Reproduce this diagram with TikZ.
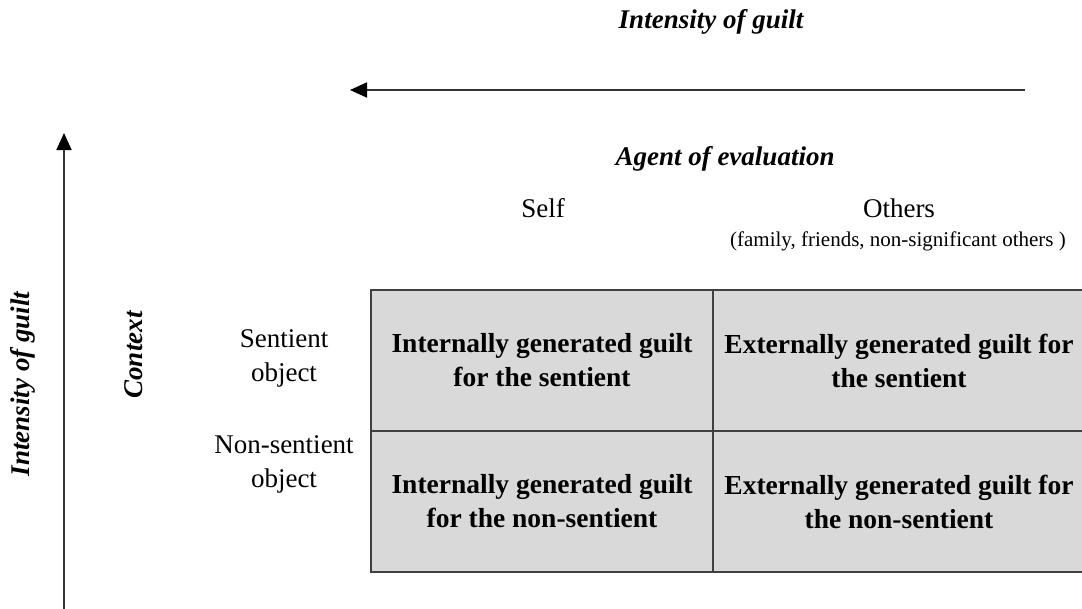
\documentclass[tikz,border=0pt]{standalone}
\usepackage{fontspec}
\setmainfont{Liberation Serif}
\usetikzlibrary{arrows.meta}
\begin{document}
\begin{tikzpicture}[x=1pt,y=-1pt,
  arr/.style={line width=1.8pt,draw=black!80,-{Triangle[length=17pt,width=15pt,fill=black,color=black]}},
  cell/.style={draw=black!75,line width=1.8pt,fill=black!15,minimum height=141pt,inner sep=0pt,align=center,font=\fontsize{27.5}{34}\selectfont\bfseries},
  hdr/.style={font=\fontsize{27}{30}\selectfont\bfseries\itshape},
  lbl/.style={font=\fontsize{27}{34}\selectfont,align=center}]
\useasboundingbox (0,0) rectangle (1082,608);
% grid
\node[cell,minimum width=342pt] (c11) at (542,360.5) {Internally generated guilt\\for the sentient};
\node[cell,minimum width=372pt] (c12) at (899,360.5) {Externally generated guilt for\\the sentient};
\node[cell,minimum width=342pt] (c21) at (542,501.5) {Internally generated guilt\\for the non-sentient};
\node[cell,minimum width=372pt] (c22) at (899,501.5) {Externally generated guilt for\\the non-sentient};
% headers
\node[hdr] (top) at (711,22) {Intensity of guilt};
\node[hdr] (agent) at (725,159) {Agent of evaluation};
\node[lbl] (self) at (543,208) {Self};
\node[lbl] (others) at (899,208) {Others};
\node[font=\fontsize{21}{24}\selectfont] (fam) at (898,241) {(family, friends, non-significant others )};
\node[hdr,rotate=90] (left) at (23,384) {Intensity of guilt};
\node[hdr,rotate=90] (ctx) at (134,355) {Context};
\node[lbl] (sent) at (284,358) {Sentient\\object};
\node[lbl] (nons) at (284,464) {Non-sentient\\object};
% arrows
\coordinate (ts) at (1025,90);
\coordinate (te) at (350,90);
\draw[arr] (ts) -- (te);
\coordinate (ls) at (64,612);
\coordinate (le) at (64,133);
\draw[arr] (ls) -- (le);
\end{tikzpicture}
\end{document}
